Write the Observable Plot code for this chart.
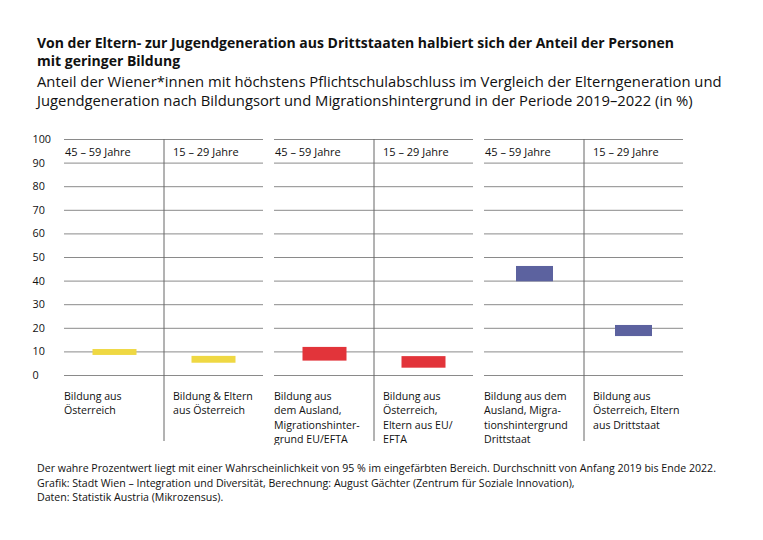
<!DOCTYPE html>
<html><head><meta charset="utf-8">
<script src="https://cdn.jsdelivr.net/npm/d3@7"></script>
<script src="https://cdn.jsdelivr.net/npm/@observablehq/plot@0.6"></script>
<style>
body{margin:0;background:#fff;font-family:"Open Sans",sans-serif;color:#111;}
#wrap{position:relative;width:763px;height:540px;}
.t{position:absolute;left:37px;white-space:nowrap;}
#title{top:34px;font-weight:700;font-size:14px;line-height:17.5px;}
#sub{top:71.8px;font-size:14.8px;line-height:19px;}
#cap{top:461px;font-size:10.6px;line-height:14.5px;}
#chart{position:absolute;left:0;top:120px;}
</style></head>
<body><div id="wrap">
<div class="t" id="title">Von der Eltern- zur Jugendgeneration aus Drittstaaten halbiert sich der Anteil der Personen<br>mit geringer Bildung</div>
<div class="t" id="sub">Anteil der Wiener*innen mit höchstens Pflichtschulabschluss im Vergleich der Elterngeneration und<br>Jugendgeneration nach Bildungsort und Migrationshintergrund in der Periode 2019–2022 (in %)</div>
<div id="chart"></div>
<div class="t" id="cap">Der wahre Prozentwert liegt mit einer Wahrscheinlichkeit von 95 % im eingefärbten Bereich. Durchschnitt von Anfang 2019 bis Ende 2022.<br>Grafik: Stadt Wien – Integration und Diversität, Berechnung: August Gächter (Zentrum für Soziale Innovation),<br>Daten: Statistik Austria (Mikrozensus).</div>
</div>
<script>
const groups = ["Österreich", "EU/EFTA", "Drittstaat"];
const ages = ["45 – 59 Jahre", "15 – 29 Jahre"];
const barGroup = ["Österreich", "Österreich", "EU/EFTA", "EU/EFTA", "Drittstaat", "Drittstaat"];
const barAge = ["45 – 59 Jahre", "15 – 29 Jahre", "45 – 59 Jahre", "15 – 29 Jahre", "45 – 59 Jahre", "15 – 29 Jahre"];
const lower = [8.5, 5.2, 6.1, 3.1, 39.7, 16.5];
const upper = [11.0, 8.1, 11.9, 8.0, 46.2, 21.2];
const barLabels = [
  "Bildung aus\nÖsterreich",
  "Bildung & Eltern\naus Österreich",
  "Bildung aus\ndem Ausland,\nMigrationshinter-\ngrund EU/EFTA",
  "Bildung aus\nÖsterreich,\nEltern aus EU/\nEFTA",
  "Bildung aus dem\nAusland, Migra-\ntionshintergrund\nDrittstaat",
  "Bildung aus\nÖsterreich, Eltern\naus Drittstaat"
];
const yTicks = [0, 10, 20, 30, 40, 50, 60, 70, 80, 90, 100];
const colors = ["#EFD843", "#E2343A", "#5C629F"];

const rows = lower.map((lo, i) => ({group: barGroup[i], age: barAge[i], lo, hi: upper[i], label: barLabels[i]}));

const font = "'Open Sans', sans-serif";
const plot = Plot.plot({
  width: 763,
  height: 325,
  marginLeft: 63,
  marginRight: 79,
  marginTop: 19,
  marginBottom: 70,
  style: {fontFamily: font, fontSize: "10.5px", color: "#111", background: "white"},
  fx: {domain: groups, padding: 0.052, axis: null},
  x: {domain: ages, padding: 0, axis: null},
  y: {domain: [0, 100], axis: null},
  color: {domain: groups, range: colors},
  marks: [
    Plot.ruleY(yTicks, {stroke: "#8a8a8a", strokeWidth: 1}),
    Plot.ruleX(ages.slice(1), {x: d => d, dx: -50, stroke: "#666", strokeWidth: 1, insetBottom: -66}),
    Plot.axisY(yTicks, {tickSize: 0, textAnchor: "start", dx: -23, fontSize: 10.8, label: null, facetAnchor: "left", fill: "#111"}),
    Plot.text(ages.slice(0, 1), {x: d => d, y: 95, text: d => d, textAnchor: "start", dx: -50, dy: 1.5, fontSize: 11, fill: "#111"}),
    Plot.text(ages.slice(1), {x: d => d, y: 95, text: d => d, textAnchor: "start", dx: -41, dy: 1.5, fontSize: 11, fill: "#111"}),
    Plot.barY(rows.filter(d => d.group !== groups[2]), {fx: "group", x: "age", y1: "lo", y2: "hi", fill: "group", insetLeft: 27.5, insetRight: 27.5}),
    Plot.barY(rows.filter(d => d.group === groups[2]), {fx: "group", x: "age", y1: "lo", y2: "hi", fill: "group", insetLeft: 31, insetRight: 31}),
    Plot.text(rows.filter(d => d.age === ages[0]), {fx: "group", x: "age", y: 0, text: "label", textAnchor: "start", lineAnchor: "top", dx: -51, dy: 14, fontSize: 10.6, lineHeight: 1.37, fill: "#111"}),
    Plot.text(rows.filter(d => d.age === ages[1]), {fx: "group", x: "age", y: 0, text: "label", textAnchor: "start", lineAnchor: "top", dx: -41, dy: 14, fontSize: 10.6, lineHeight: 1.37, fill: "#111"})
  ]
});
document.getElementById("chart").appendChild(plot);
</script>
</body></html>
